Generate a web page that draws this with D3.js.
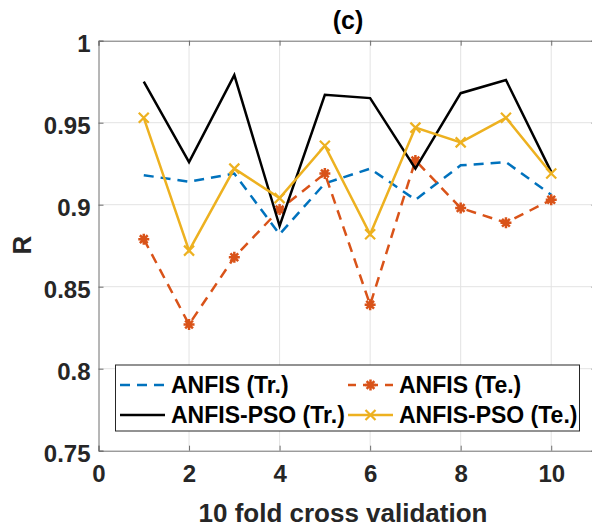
<!DOCTYPE html>
<html>
<head>
<meta charset="utf-8">
<script src="https://cdn.jsdelivr.net/npm/d3@7"></script>
<style>
  body { margin: 0; background: #fff; }
  svg { display: block; font-family: "Liberation Sans", Arial, sans-serif; }
</style>
</head>
<body>
<div id="chart"></div>
<script>
// fold index
const folds = [1, 2, 3, 4, 5, 6, 7, 8, 9, 10]
// R values
const anfisTr = [0.918, 0.914, 0.919, 0.882, 0.913, 0.922, 0.903, 0.924, 0.926, 0.906]
const anfisTe = [0.879, 0.827, 0.868, 0.897, 0.919, 0.839, 0.927, 0.898, 0.889, 0.903]
const psoTr = [0.975, 0.926, 0.979, 0.887, 0.967, 0.965, 0.922, 0.968, 0.976, 0.920]
const psoTe = [0.953, 0.872, 0.922, 0.904, 0.936, 0.882, 0.947, 0.938, 0.953, 0.919]
const xTicks = [0, 2, 4, 6, 8, 10]
const yTicks = [0.75, 0.8, 0.85, 0.9, 0.95, 1]
const yTickLabels = ['0.75', '0.8', '0.85', '0.9', '0.95', '1']

const W = 592, H = 528
const svg = d3.select('#chart').append('svg').attr('width', W).attr('height', H)

const x = d3.scaleLinear().domain([0, 11]).range([98.5, 596.5])
const y = d3.scaleLinear().domain([0.75, 1]).range([450.7, 40.7])

const axisCol = '#262626'

// grid
const grid = svg.append('g')
grid.selectAll('line.gx').data(xTicks.slice(1)).join('line')
    .attr('x1', d => x(d)).attr('x2', d => x(d))
    .attr('y1', y(1)).attr('y2', y(0.75))
    .attr('stroke', '#e3e3e3').attr('stroke-width', 1)
grid.selectAll('line.gy').data(yTicks.slice(1, -1)).join('line')
    .attr('x1', x(0)).attr('x2', x(11))
    .attr('y1', d => y(d)).attr('y2', d => y(d))
    .attr('stroke', '#e3e3e3').attr('stroke-width', 1)

// axes (MATLAB-like box with inward ticks)
const xAxis = d3.axisBottom(x).tickValues(xTicks).tickSize(-5).tickPadding(14).tickFormat(d3.format('d'))
const yAxis = d3.axisLeft(y).tickValues(yTicks).tickSize(-5).tickPadding(8).tickFormat((d, i) => yTickLabels[i])
const gx = svg.append('g').attr('transform', `translate(0,${y(0.75)})`).call(xAxis)
const gy = svg.append('g').attr('transform', `translate(${x(0)},0)`).call(yAxis)
// top and right ticks
svg.append('g').attr('transform', `translate(0,${y(1)})`)
    .call(d3.axisTop(x).tickValues(xTicks).tickSize(-5).tickFormat(''))
svg.append('g').attr('transform', `translate(${x(11)},0)`)
    .call(d3.axisRight(y).tickValues(yTicks).tickSize(-5).tickFormat(''))

svg.selectAll('.domain').attr('stroke', '#6e6e6e').attr('stroke-width', 1)
svg.selectAll('.tick line').attr('stroke', '#6e6e6e')
svg.selectAll('.tick text').attr('fill', axisCol)
    .style('font-size', '24px').style('font-weight', 'bold')
gy.selectAll('.tick text').attr('dy', '0.45em')

// series
const series = [
  { name: 'ANFIS (Tr.)', vals: anfisTr, color: '#0072BD', dash: '10,7', marker: null },
  { name: 'ANFIS (Te.)', vals: anfisTe, color: '#D95319', dash: '10,7', marker: 'star' },
  { name: 'ANFIS-PSO (Tr.)', vals: psoTr, color: '#000000', dash: null, marker: null },
  { name: 'ANFIS-PSO (Te.)', vals: psoTe, color: '#EDB120', dash: null, marker: 'x' }
]

const starPath = r => {
  const a = r * 0.7071
  return `M${-r},0L${r},0M0,${-r}L0,${r}M${-a},${-a}L${a},${a}M${-a},${a}L${a},${-a}`
}
const xPath = r => `M${-r},${-r}L${r},${r}M${-r},${r}L${r},${-r}`

const line = d3.line().x(d => x(d[0])).y(d => y(d[1]))
const plot = svg.append('g')

const drawMarker = (g, type, color) => {
  if (type === 'star') g.append('path').attr('d', starPath(5.5)).attr('stroke', color).attr('stroke-width', 2.5).attr('fill', 'none')
  if (type === 'x') g.append('path').attr('d', xPath(5)).attr('stroke', color).attr('stroke-width', 2.2).attr('fill', 'none')
}

series.forEach(s => {
  const pts = folds.map((f, i) => [f, s.vals[i]])
  plot.append('path').datum(pts)
      .attr('d', line)
      .attr('fill', 'none')
      .attr('stroke', s.color)
      .attr('stroke-width', 2.5)
      .attr('stroke-dasharray', s.dash)
  if (s.marker) {
    pts.forEach(p => {
      const g = plot.append('g').attr('transform', `translate(${x(p[0])},${y(p[1])})`)
      drawMarker(g, s.marker, s.color)
    })
  }
})

// legend
const leg = svg.append('g')
leg.append('rect').attr('x', 115.5).attr('y', 365).attr('width', 464).attr('height', 66)
    .attr('fill', '#fff').attr('stroke', axisCol).attr('stroke-width', 1)
const legPos = [[120, 385], [348, 385], [120, 415], [348, 415]]
series.forEach((s, i) => {
  const [lx, ly] = legPos[i]
  leg.append('line').attr('x1', lx).attr('x2', lx + 45).attr('y1', ly).attr('y2', ly)
      .attr('stroke', s.color).attr('stroke-width', 2.5)
      .attr('stroke-dasharray', s.marker === 'star' ? '8,7,15,7,8' : (s.dash ? '10,7' : null))
  if (s.marker) {
    const g = leg.append('g').attr('transform', `translate(${lx + 22.5},${ly})`)
    drawMarker(g, s.marker, s.color)
  }
  leg.append('text').attr('x', lx + 51).attr('y', ly).attr('dy', '0.36em')
      .attr('fill', '#000').style('font-size', '23px').style('font-weight', 'bold')
      .text(s.name)
})

// title and labels
svg.append('text').attr('x', 348).attr('y', 29).attr('text-anchor', 'middle')
    .attr('fill', '#000').style('font-size', '25px').style('font-weight', 'bold').text('(c)')
svg.append('text').attr('x', 343).attr('y', 522).attr('text-anchor', 'middle')
    .attr('fill', axisCol).style('font-size', '26px').style('font-weight', 'bold').text('10 fold cross validation')
svg.append('text').attr('transform', 'translate(31,245) rotate(-90)').attr('text-anchor', 'middle')
    .attr('fill', axisCol).style('font-size', '26px').style('font-weight', 'bold').text('R')
</script>
</body>
</html>
